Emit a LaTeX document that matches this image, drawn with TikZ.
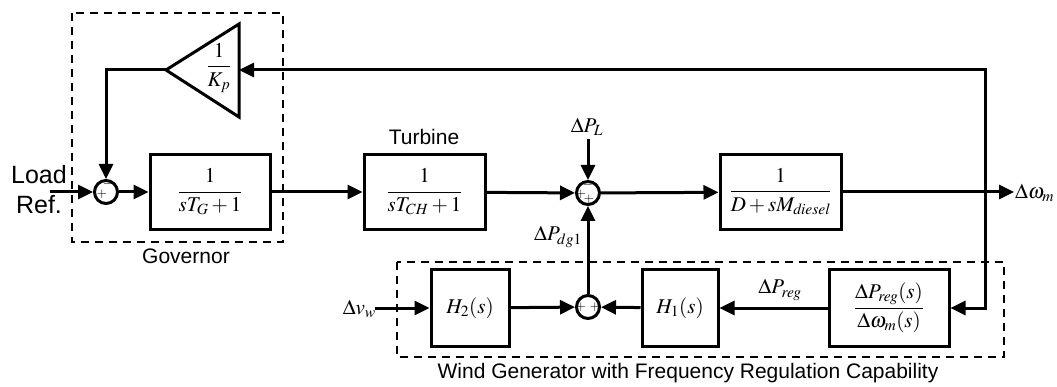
\documentclass[tikz,border=0pt]{standalone}
\usepackage{mathptmx}
\usepackage[no-math]{fontspec}
\setmainfont{Liberation Sans}
\usetikzlibrary{arrows.meta}
\begin{document}
\begin{tikzpicture}[x=1pt,y=-1pt,
  every node/.style={font=\fontsize{21}{25}\selectfont, inner sep=0pt},
  blk/.style={draw, line width=3pt, minimum height=75pt},
  sumc/.style={draw, circle, line width=3pt, minimum size=23pt},
  sgn/.style={font=\fontsize{13}{13}\selectfont},
  conn/.style={line width=3pt, -{Triangle[length=15pt,width=14pt]}},
  wire/.style={line width=3pt},
  dbox/.style={line width=1.6pt, dash pattern=on 8pt off 6pt},
  lbl/.style={font=\fontsize{21}{25}\selectfont}]
\useasboundingbox (0,0) rectangle (1057,387);

% dashed groups
\draw[dbox] (72,13) rectangle (283,242);
\draw[dbox] (397,262) rectangle (1004,357);

% blocks
\node[blk, minimum width=120pt] (gov) at (210,192) {$\displaystyle\frac{1}{sT_G+1}$};
\node[blk, minimum width=121pt] (tur) at (424.5,192) {$\displaystyle\frac{1}{sT_{CH}+1}$};
\node[blk, minimum width=121pt] (dies) at (780.5,192) {$\displaystyle\frac{1}{D+sM_{\mathit{diesel}}}$};
\node[blk, minimum width=78pt, minimum height=76pt] (h2) at (470,308) {$H_2(s)$};
\node[blk, minimum width=76pt, minimum height=76pt] (h1) at (680,308) {$H_1(s)$};
\node[blk, minimum width=120pt, minimum height=76pt] (reg) at (889,308) {$\displaystyle\frac{\Delta P_{\mathit{reg}}(s)}{\Delta\omega_m(s)}$};

% summing junctions
\node[sumc] (s1) at (106,192) {};
\node[sgn] (s1m) at (108,184) {$-$};
\node[sgn] (s1p) at (102,194) {$+$};
\node[sumc] (s2) at (588,193) {};
\node[sgn] (s2m) at (588,185) {$-$};
\node[sgn] (s2p) at (581,194) {$+$};
\node[sgn] (s2b) at (589,199) {$+$};
\node[sumc] (s3) at (588,307) {};
\node[sgn] (s3l) at (581,307) {$+$};
\node[sgn] (s3r) at (595,307) {$+$};

% gain triangle
\coordinate (ktip) at (166,70);
\coordinate (ktop) at (239,24);
\coordinate (kbot) at (239,117);
\coordinate (kin) at (239,70);
\draw[wire, line join=miter] (ktip) -- (ktop) -- (kbot) -- cycle;
\node (kp) at (219,68) {$\displaystyle\frac{1}{K_p}$};

% labels
\node[font=\fontsize{25}{30}\selectfont, align=center] (lref) at (39,190) {Load\\Ref.};
\node[lbl] (govl) at (186,256) {Governor};
\node[lbl] (turl) at (424,137) {Turbine};
\node[lbl] (windl) at (688,373) {Wind Generator with Frequency Regulation Capability};
\node (dpl) at (587,127) {$\Delta P_L$};
\node (dpdg) at (558,237) {$\Delta P_{dg1}$};
\node (dpreg) at (780,290) {$\Delta P_{\mathit{reg}}$};
\node[anchor=east] (dvw) at (376,309) {$\Delta v_w$};
\node[anchor=west] (dwm) at (1015,193) {$\Delta\omega_m$};

% coordinates
\coordinate (lrin) at (50,192);
\coordinate (plin) at (588,139);
\coordinate (vin) at (375,308);
\coordinate (wout) at (1014,192);
\coordinate (j) at (985,192);
\coordinate (jt) at (985,70);

% connectors
\draw[conn] (lrin) -- (s1);
\draw[conn] (s1) -- (gov);
\draw[conn] (gov) -- (tur);
\draw[conn] (tur) -- (s2);
\draw[conn] (plin) -- (s2);
\draw[conn] (s2) -- (dies);
\draw[conn] (dies) -- (wout);
\draw[conn] (j) -- (jt) -- (kin);
\draw[conn] (ktip) -| (s1);
\draw[conn] (j) |- (reg.east);
\draw[conn] (reg) -- (h1);
\draw[conn] (h1) -- (s3);
\draw[conn] (vin) -- (h2);
\draw[conn] (h2) -- (s3);
\draw[conn] (s3) -- (s2);
\end{tikzpicture}
\end{document}
